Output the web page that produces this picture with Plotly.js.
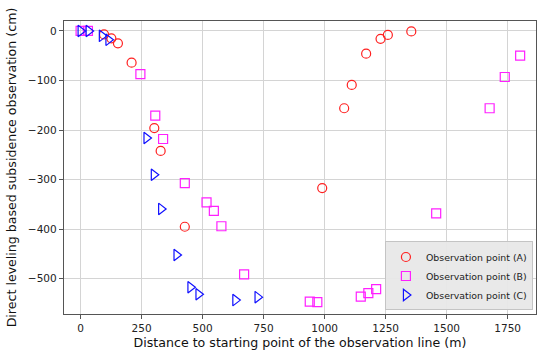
<!DOCTYPE html>
<html>
<head>
<meta charset="utf-8">
<script src="https://cdn.plot.ly/plotly-3.0.1.min.js"></script>
<style>html,body{margin:0;padding:0;background:#fff;}#chart{width:550px;height:359px;}</style>
</head>
<body>
<div id="chart"></div>
<script>
const aX = [96, 126, 153, 209, 302, 328, 427, 990, 1080, 1111, 1170, 1229, 1259, 1355];
const aY = [-7, -15, -25, -64, -196, -242, -395, -317, -156, -109, -46, -16, -8, -1];
const bX = [0, 30, 245, 306, 338, 427, 516, 546, 577, 670, 939, 970, 1148, 1179, 1211, 1457, 1676, 1738, 1801];
const bY = [0, 0, -87, -171, -218, -307, -346, -363, -394, -491, -546, -547, -536, -529, -521, -368, -156, -93, -50];
const cX = [0, 33, 87, 114, 270, 300, 330, 393, 450, 483, 634, 725];
const cY = [0, 0, -10, -18, -216, -290, -359, -452, -517, -531, -543, -537];
const names = ["Observation point (A)", "Observation point (B)", "Observation point (C)"];
const xTicks = [0, 250, 500, 750, 1000, 1250, 1500, 1750];
const yTicks = [0, -100, -200, -300, -400, -500];

const fam = "DejaVu Sans, sans-serif";
const traces = [
  {x: aX, y: aY, name: names[0], mode: "markers", type: "scatter",
   marker: {symbol: "circle-open", size: 9, color: "#ff2020", line: {width: 1.2}}},
  {x: bX, y: bY, name: names[1], mode: "markers", type: "scatter",
   marker: {symbol: "square-open", size: 9, color: "#ff20ff", line: {width: 1.2}}},
  {x: cX, y: cY, name: names[2], mode: "markers", type: "scatter",
   marker: {symbol: "triangle-right-open", size: 10, color: "#1010ff", line: {width: 1.2}}}
];
const axisCommon = {
  showline: true, mirror: true, linecolor: "#555", linewidth: 1.2,
  showgrid: true, gridcolor: "#d4d4d4", gridwidth: 1, zeroline: false,
  ticks: "outside", ticklen: 4, tickcolor: "#555",
  tickfont: {family: fam, size: 10.5, color: "#222"}
};
const layout = {
  width: 550, height: 359,
  margin: {l: 64, r: 14, t: 21, b: 45},
  paper_bgcolor: "#fff", plot_bgcolor: "#fff",
  showlegend: true,
  xaxis: Object.assign({}, axisCommon, {
    range: [-68, 1866], tickvals: xTicks, ticktext: xTicks.map(String),
    title: {text: "Distance to starting point of the observation line (m)", font: {family: fam, size: 12.6, color: "#111"}, standoff: 5}
  }),
  yaxis: Object.assign({}, axisCommon, {
    range: [-571, 20], tickvals: yTicks, ticktext: yTicks.map(v => v < 0 ? "\u2212" + Math.abs(v) : String(v)),
    title: {text: "Direct leveling based subsidence observation (cm)", font: {family: fam, size: 12.6, color: "#111"}, standoff: 8}
  }),
  legend: {
    x: 0.9935, xanchor: "right", y: 0.012, yanchor: "bottom",
    bgcolor: "rgba(232,232,232,0.95)", bordercolor: "#c4c4c4", borderwidth: 1,
    font: {family: fam, size: 9.4, color: "#222"},
    tracegroupgap: 0, itemwidth: 30
  }
};
Plotly.newPlot("chart", traces, layout, {displayModeBar: false, staticPlot: true});
</script>
</body>
</html>
